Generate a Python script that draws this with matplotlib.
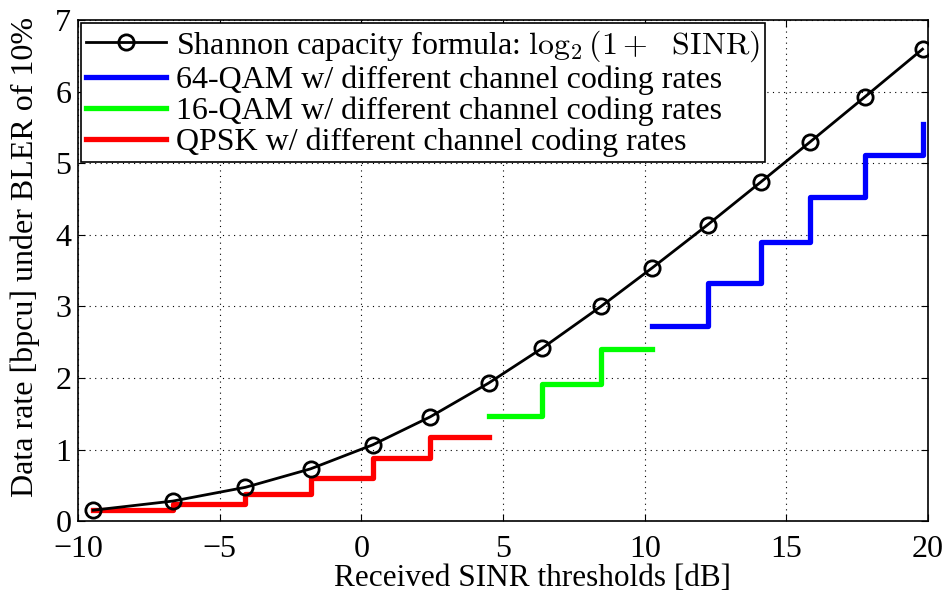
import matplotlib
matplotlib.use('Agg')
import matplotlib.pyplot as plt

# SINR thresholds [dB] and Shannon values
sinr = [-9.478, -6.658, -4.098, -1.798, 0.399, 2.424, 4.489, 6.367,
        8.456, 10.266, 12.218, 14.122, 15.849, 17.786, 19.809]
shannon = [0.154, 0.282, 0.474, 0.732, 1.068, 1.458, 1.930, 2.414,
           3.001, 3.540, 4.140, 4.746, 5.302, 5.932, 6.595]

# step curves (x = thresholds, y = rate, last value repeated for the end)
qpsk_x = [-9.478, -6.658, -4.098, -1.798, 0.399, 2.424, 4.489]
qpsk_y = [0.1523, 0.2344, 0.3770, 0.6016, 0.8770, 1.1758, 1.1758]
qam16_x = [4.489, 6.367, 8.456, 10.266]
qam16_y = [1.4766, 1.9141, 2.4063, 2.4063]
qam64_x = [10.266, 12.218, 14.122, 15.849, 17.786, 19.809]
qam64_y = [2.7305, 3.3223, 3.9023, 4.5234, 5.1152, 5.5547]

plt.rcParams['font.family'] = ['Liberation Serif', 'DejaVu Serif']
plt.rcParams['mathtext.fontset'] = 'cm'
plt.rcParams['font.size'] = 23

fig = plt.figure(figsize=(9.43, 5.93), dpi=100)
ax = fig.add_axes([0.083, 0.121, 0.901, 0.845])

ax.plot(sinr, shannon, '-o', color='black', lw=2, ms=11, mfc='none',
        mew=2, label=r'Shannon capacity formula: $\log_2(1+\ \ \mathrm{SINR})$', zorder=5)
ax.plot(qam64_x, qam64_y, drawstyle='steps-post', color='#0000ff', lw=3.8,
        label='64-QAM w/ different channel coding rates')
ax.plot(qam16_x, qam16_y, drawstyle='steps-post', color='#00ff00', lw=3.8,
        label='16-QAM w/ different channel coding rates')
ax.plot(qpsk_x, qpsk_y, drawstyle='steps-post', color='#ff0000', lw=3.8,
        label='QPSK w/ different channel coding rates')

ax.set_xlim(-10, 20)
ax.set_ylim(0, 7)
ax.set_xticks(range(-10, 21, 5))
ax.set_yticks(range(0, 8))
ax.set_xticklabels(['\u221210', '\u22125', '0', '5', '10', '15', '20'])
ax.grid(True, linestyle=(0, (1, 4)), color='black', lw=0.8)
ax.tick_params(direction='in', length=5, top=True, right=True, labelsize=23)
ax.tick_params(axis='x', pad=10)
ax.tick_params(axis='y', pad=5)
for s in ax.spines.values():
    s.set_linewidth(1.2)

ax.set_xlabel('Received SINR thresholds [dB]', fontsize=22.5)
ax.set_ylabel('Data rate [bpcu] under BLER of 10%', fontsize=23)
ax.xaxis.set_label_coords(0.535, -0.085)
ax.yaxis.set_label_coords(-0.045, 0.527)

leg = ax.legend(loc='upper left', fontsize=23, frameon=True, fancybox=False,
                edgecolor='black', framealpha=1, borderpad=0.15,
                labelspacing=0.05, handlelength=2.5, handletextpad=0.3,
                borderaxespad=0.1)
leg.get_frame().set_linewidth(1.2)

fig.savefig('out.png', dpi=100)
